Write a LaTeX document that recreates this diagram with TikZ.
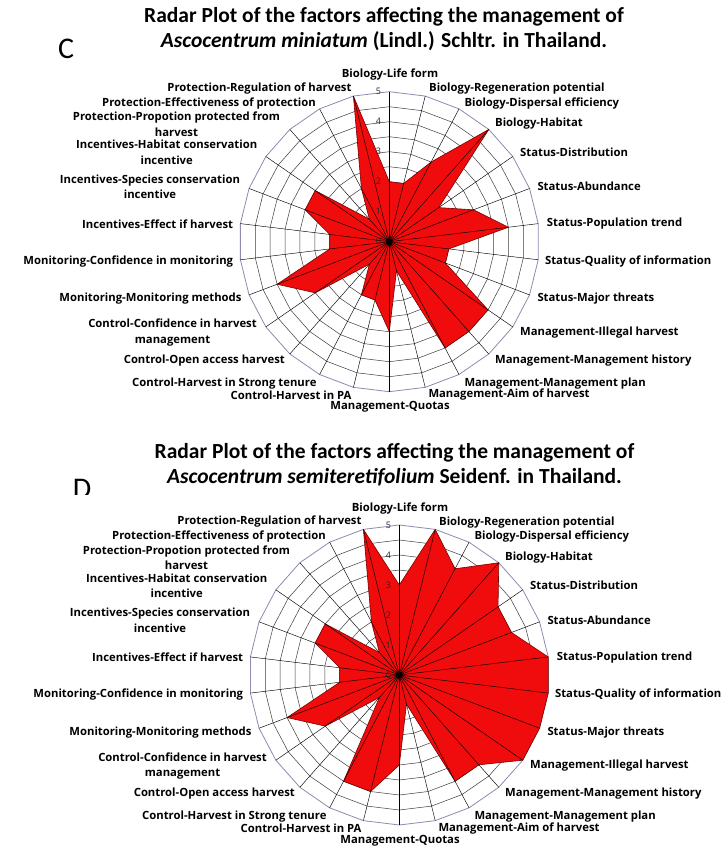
\documentclass[tikz,border=0pt]{standalone}
\usepackage{fontspec}
\setmainfont{Carlito}
\newfontfamily\labelfont{Open Sans}
\definecolor{radarRed}{RGB}{240,12,12}
\definecolor{radarEdge}{RGB}{120,0,0}
\definecolor{radarRing}{RGB}{140,140,176}
\definecolor{radarGrid}{RGB}{60,60,60}

\tikzset{
  axislabel/.style={font=\labelfont\bfseries\fontsize{11.3}{15.5}\selectfont,
                    inner sep=0pt, align=center},
  ticklabel/.style={font=\labelfont\fontsize{9}{9}\selectfont, inner sep=0pt,
                    anchor=east, text=black!85},
  gridring/.style={draw=radarGrid, line width=0.5pt},
  outerring/.style={draw=radarRing, line width=0.8pt},
  spoke/.style={draw=black, line width=0.45pt},
  radarfill/.style={fill=radarRed, draw=radarEdge, line width=0.6pt, line join=round},
  charttitle/.style={font=\bfseries\fontsize{21.5}{25}\selectfont, align=center, inner sep=0pt},
  paneltag/.style={font=\fontsize{30}{30}\selectfont, inner sep=0pt}
}

% #1 name, #2 centre, #3 the 26 scores (clockwise from the top)
\newcommand{\radarchart}[3]{%
  \begin{scope}[shift={#2}]
    % rings every half unit
    \foreach \k in {1,...,9}
      \draw[gridring] (90:{\k*15pt}) \foreach \i in {1,...,25}{ -- ({90-\i*360/26}:{\k*15pt})} -- cycle;
    \draw[outerring] (90:150pt) \foreach \i in {1,...,25}{ -- ({90-\i*360/26}:150pt)} -- cycle;
    % scores
    \foreach \v [count=\i from 0] in {#3}
      \coordinate (#1-\i) at ({90-\i*360/26}:{\v*30pt});
    \draw[radarfill] (#1-0) \foreach \i in {1,...,25}{ -- (#1-\i)} -- cycle;
    \foreach \i in {0,...,25}
      \draw[spoke] (0,0) -- ({90-\i*360/26}:150pt);
    \fill (0,0) circle (3.5pt);
    \foreach \t in {0,...,5}
      \node[ticklabel] at (-8,{\t*30}) {\t};
    % axis names
    \node[axislabel] (#1-lifeform) at (0.7,166.7) {Biology-Life form};
    \node[axislabel, anchor=west] (#1-regen) at (39.7,152.7) {Biology-Regeneration potential};
    \node[axislabel, anchor=west] (#1-dispersal) at (75,138.4) {Biology-Dispersal efficiency};
    \node[axislabel, anchor=west] (#1-habitat) at (105.7,117.7) {Biology-Habitat};
    \node[axislabel, anchor=west] (#1-distrib) at (130.7,89.4) {Status-Distribution};
    \node[axislabel, anchor=west] (#1-abund) at (148,55) {Status-Abundance};
    \node[axislabel, anchor=west] (#1-trend) at (157.4,17.7) {Status-Population trend};
    \node[axislabel, anchor=west] (#1-quality) at (155.6,-20) {Status-Quality of information};
    \node[axislabel, anchor=west] (#1-threats) at (148,-57.3) {Status-Major threats};
    \node[axislabel, anchor=west] (#1-illegal) at (130.7,-90.6) {Management-Illegal harvest};
    \node[axislabel, anchor=west] (#1-history) at (105.7,-119) {Management-Management history};
    \node[axislabel, anchor=west] (#1-plan) at (75,-141.6) {Management-Management plan};
    \node[axislabel, anchor=west] (#1-aim) at (39,-153.3) {Management-Aim of harvest};
    \node[axislabel] (#1-quotas) at (0.7,-165.3) {Management-Quotas};
    \node[axislabel, anchor=east] (#1-pa) at (-37.6,-153.3) {Control-Harvest in PA};
    \node[axislabel, anchor=east] (#1-tenure) at (-72.6,-141.6) {Control-Harvest in Strong tenure};
    \node[axislabel, anchor=east] (#1-open) at (-104.3,-119) {Control-Open access harvest};
    \node[axislabel] (#1-confharv) at (-216.8,-90.8) {Control-Confidence in harvest\\management};
    \node[axislabel, anchor=east] (#1-methods) at (-147.6,-57.3) {Monitoring-Monitoring methods};
    \node[axislabel, anchor=east] (#1-confmon) at (-156,-20) {Monitoring-Confidence in monitoring};
    \node[axislabel, anchor=east] (#1-effect) at (-156,17.7) {Incentives-Effect if harvest};
    \node[axislabel] (#1-species) at (-239.3,54.7) {Incentives-Species conservation\\incentive};
    \node[axislabel] (#1-habcons) at (-222.6,89.4) {Incentives-Habitat conservation\\incentive};
    \node[axislabel] (#1-propotion) at (-212.8,117.5) {Protection-Propotion protected from\\harvest};
    \node[axislabel, anchor=east] (#1-effective) at (-73.3,138.4) {Protection-Effectiveness of protection};
    \node[axislabel, anchor=east] (#1-regul) at (-37.6,153.4) {Protection-Regulation of harvest};
  \end{scope}}

\begin{document}
\begin{tikzpicture}[x=1pt, y=1pt]
  \useasboundingbox (0,0) rectangle (723,-848);
  \fill[white] (0,0) rectangle (723,-848);

  % panel C
  \node[paneltag] (tagC) at (66,-49) {C};
  \node[charttitle] (titleC) at (384,-29)
    {Radar Plot of the factors affecting the management of\\
     \textit{Ascocentrum miniatum} (Lindl.) Schltr. in Thailand.};
  \radarchart{C}{(389.3,-241.7)}{2,2,3,5,2,3,4,2,2,4,4,4,1,3,2,2,1,3,4,2,2,3,3,1,2,5}

  % panel D (the tag is cut by the plot area)
  \begin{scope}
    \clip (40,-460) rectangle (130,-494);
    \node[paneltag] (tagD) at (82,-489) {D};
  \end{scope}
  \node[charttitle] (titleD) at (394.5,-464.7)
    {Radar Plot of the factors affecting the management of\\
     \textit{Ascocentrum semiteretifolium} Seidenf. in Thailand.};
  \radarchart{D}{(399.3,-675)}{3,5,4,5,4,4,5,5,5,5,4,4,1,3,4,4,1,3,4,2,2,3,3,1,2,5}
\end{tikzpicture}
\end{document}
